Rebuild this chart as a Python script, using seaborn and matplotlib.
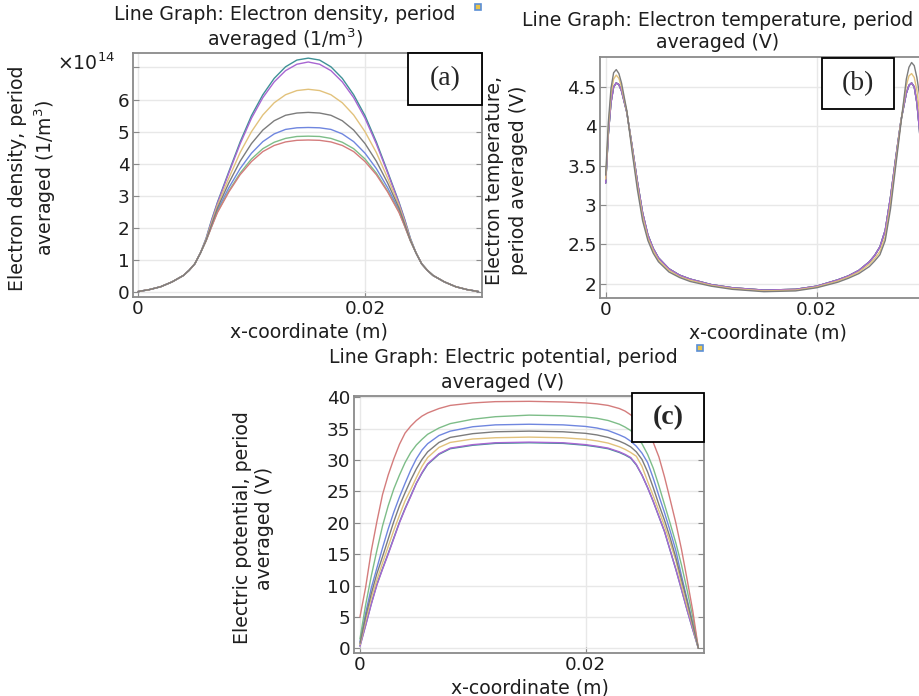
import numpy as np
import pandas as pd
import seaborn as sns
import matplotlib.pyplot as plt
from matplotlib.patches import Rectangle

# ---- data (x in mm) ----
x_density = [0, 1, 2, 3, 4, 4.5, 5, 5.5, 6, 6.5, 7, 8, 9, 10, 11, 12, 13, 14, 15,
             16, 17, 18, 19, 20, 21, 22, 23, 23.5, 24, 24.5, 25, 25.5, 26, 27, 28, 29, 30]
# electron density, units of 1e14 1/m^3
ne_blue = [0.02, 0.08, 0.17, 0.32, 0.52, 0.68, 0.88, 1.22, 1.61, 2.08, 2.55, 3.25, 3.85, 4.33, 4.69, 4.93, 5.07, 5.12, 5.13,
           5.12, 5.07, 4.93, 4.69, 4.33, 3.85, 3.25, 2.55, 2.08, 1.61, 1.22, 0.88, 0.68, 0.52, 0.32, 0.17, 0.08, 0.02]
ne_green = [0.02, 0.08, 0.17, 0.32, 0.52, 0.68, 0.88, 1.22, 1.6, 2.06, 2.5, 3.15, 3.71, 4.15, 4.47, 4.67, 4.79, 4.85, 4.86,
            4.85, 4.79, 4.67, 4.47, 4.15, 3.71, 3.15, 2.5, 2.06, 1.6, 1.22, 0.88, 0.68, 0.52, 0.32, 0.17, 0.08, 0.02]
ne_red = [0.02, 0.08, 0.17, 0.32, 0.52, 0.68, 0.88, 1.22, 1.6, 2.05, 2.48, 3.12, 3.66, 4.07, 4.38, 4.57, 4.68, 4.73, 4.74,
          4.73, 4.68, 4.57, 4.38, 4.07, 3.66, 3.12, 2.48, 2.05, 1.6, 1.22, 0.88, 0.68, 0.52, 0.32, 0.17, 0.08, 0.02]
ne_cyan = [0.02, 0.08, 0.17, 0.32, 0.52, 0.68, 0.88, 1.22, 1.68, 2.27, 2.8, 3.75, 4.68, 5.5, 6.15, 6.66, 7.02, 7.23, 7.29,
           7.23, 7.02, 6.66, 6.15, 5.5, 4.68, 3.75, 2.8, 2.27, 1.68, 1.22, 0.88, 0.68, 0.52, 0.32, 0.17, 0.08, 0.02]
ne_magenta = [0.02, 0.08, 0.17, 0.32, 0.52, 0.68, 0.88, 1.22, 1.66, 2.24, 2.77, 3.71, 4.62, 5.42, 6.06, 6.55, 6.9, 7.1, 7.17,
              7.1, 6.9, 6.55, 6.06, 5.42, 4.62, 3.71, 2.77, 2.24, 1.66, 1.22, 0.88, 0.68, 0.52, 0.32, 0.17, 0.08, 0.02]
ne_yellow = [0.02, 0.08, 0.17, 0.32, 0.52, 0.68, 0.88, 1.22, 1.64, 2.18, 2.7, 3.55, 4.35, 5.0, 5.52, 5.9, 6.15, 6.28, 6.32,
             6.28, 6.15, 5.9, 5.52, 5.0, 4.35, 3.55, 2.7, 2.18, 1.64, 1.22, 0.88, 0.68, 0.52, 0.32, 0.17, 0.08, 0.02]
ne_black = [0.02, 0.08, 0.17, 0.32, 0.52, 0.68, 0.88, 1.22, 1.62, 2.12, 2.62, 3.4, 4.08, 4.63, 5.05, 5.34, 5.51, 5.58, 5.6,
            5.58, 5.51, 5.34, 5.05, 4.63, 4.08, 3.4, 2.62, 2.12, 1.62, 1.22, 0.88, 0.68, 0.52, 0.32, 0.17, 0.08, 0.02]

x_temp = [0, 0.25, 0.5, 0.75, 1, 1.25, 1.5, 2, 2.5, 3, 3.5, 4, 4.5, 5, 6, 7, 8, 10, 12, 15,
          18, 20, 22, 23, 24, 25, 25.5, 26, 26.5, 27, 27.5, 28, 28.5, 28.75, 29, 29.25, 29.5, 29.75, 30]
te_black = [3.38, 4.05, 4.48, 4.68, 4.72, 4.67, 4.55, 4.2, 3.68, 3.2, 2.8, 2.55, 2.39, 2.28, 2.15, 2.08, 2.03, 1.97, 1.93, 1.9,
            1.91, 1.95, 2.02, 2.07, 2.13, 2.22, 2.29, 2.37, 2.55, 2.95, 3.5, 4.05, 4.6, 4.75, 4.81, 4.77, 4.62, 4.4, 3.5]
te_yellow = [3.33, 3.97, 4.4, 4.6, 4.65, 4.61, 4.5, 4.19, 3.72, 3.25, 2.85, 2.58, 2.42, 2.3, 2.17, 2.09, 2.045, 1.98, 1.94, 1.91,
             1.92, 1.96, 2.035, 2.085, 2.15, 2.25, 2.32, 2.41, 2.6, 3.02, 3.55, 4.07, 4.52, 4.64, 4.67, 4.62, 4.46, 4.17, 3.4]
te_other = [3.28, 3.9, 4.3, 4.5, 4.55, 4.53, 4.45, 4.18, 3.75, 3.3, 2.9, 2.62, 2.45, 2.33, 2.19, 2.11, 2.06, 1.99, 1.95, 1.92,
            1.93, 1.97, 2.05, 2.1, 2.17, 2.28, 2.36, 2.47, 2.68, 3.1, 3.6, 4.08, 4.42, 4.52, 4.55, 4.5, 4.3, 3.95, 3.3]

x_pot = [0, 0.5, 1, 1.5, 2, 2.5, 3, 3.5, 4, 4.5, 5, 5.5, 6, 7, 8, 10, 12, 15, 18, 20,
         21, 22, 23, 23.5, 24, 24.5, 25, 25.5, 26, 26.5, 27, 27.5, 28, 28.5, 29, 29.5, 30]
phi_blue = [1.0, 5.6, 9.6, 12.8, 16.0, 19.0, 21.7, 24.1, 26.3, 28.4, 30.2, 31.6, 32.6, 33.9, 34.6, 35.3, 35.6, 35.7, 35.6, 35.35,
            35.1, 34.7, 34.0, 33.6, 33.0, 32.2, 31.1, 29.6, 27.1, 24.3, 21.6, 18.7, 15.6, 11.6, 7.8, 4.0, 0.0]
phi_green = [1.5, 6.9, 11.5, 15.6, 19.5, 22.7, 25.4, 27.6, 29.6, 31.2, 32.4, 33.3, 34.1, 35.1, 35.8, 36.5, 36.9, 37.15, 37.05, 36.85,
             36.65, 36.3, 35.7, 35.25, 34.7, 33.8, 32.6, 30.9, 28.7, 25.9, 22.9, 19.9, 16.8, 13.3, 9.3, 5.0, 0.0]
phi_red = [5.0, 9.7, 15.5, 20.2, 24.5, 27.6, 30.2, 32.5, 34.3, 35.4, 36.3, 37.0, 37.5, 38.2, 38.7, 39.1, 39.3, 39.35, 39.25, 39.1,
           38.95, 38.7, 38.2, 37.8, 37.2, 36.5, 35.5, 34.3, 32.8, 30.5, 27.3, 23.7, 20.0, 15.8, 11.0, 6.0, 0.0]
phi_cyan = [0.4, 3.7, 7.1, 10.2, 12.7, 15.1, 17.6, 20.1, 22.3, 24.3, 26.3, 27.9, 29.3, 30.9, 31.8, 32.35, 32.65, 32.75, 32.65, 32.35,
            32.1, 31.8, 31.2, 30.8, 30.3, 29.2, 27.6, 25.6, 23.4, 21.0, 18.6, 15.6, 12.6, 9.4, 6.1, 3.0, 0.0]
phi_magenta = [0.3, 3.6, 7.0, 10.1, 12.6, 15.0, 17.5, 20.0, 22.2, 24.2, 26.3, 28.0, 29.4, 31.0, 31.9, 32.45, 32.75, 32.85, 32.75, 32.45,
               32.2, 31.9, 31.3, 30.9, 30.4, 29.3, 27.6, 25.6, 23.4, 21.0, 18.6, 15.6, 12.6, 9.4, 6.1, 3.0, 0.0]
phi_yellow = [0.6, 4.4, 8.0, 10.9, 13.6, 16.2, 18.8, 21.2, 23.5, 25.3, 27.2, 29.0, 30.4, 32.0, 32.8, 33.35, 33.55, 33.65, 33.55, 33.3,
              33.05, 32.7, 32.1, 31.7, 31.2, 30.6, 29.0, 26.6, 24.3, 21.9, 19.5, 16.8, 14.0, 10.2, 6.8, 3.5, 0.0]
phi_black = [0.8, 5.0, 8.7, 11.9, 14.6, 17.4, 20.2, 22.7, 24.8, 26.8, 28.6, 30.1, 31.3, 32.8, 33.6, 34.2, 34.5, 34.6, 34.5, 34.25,
             34.0, 33.6, 33.0, 32.6, 32.1, 31.3, 30.1, 28.1, 25.6, 22.9, 20.4, 17.6, 14.5, 11.0, 7.5, 3.8, 0.0]

# COMSOL plotting order
series = ["blue", "green", "red", "cyan", "magenta", "yellow", "black"]
palette = {"blue": "#6f86df", "green": "#7dbd88", "red": "#d47c7c", "cyan": "#3f9196",
           "magenta": "#a866d2", "yellow": "#e2c27c", "black": "#7c7c7c"}

density = {"blue": ne_blue, "green": ne_green, "red": ne_red, "cyan": ne_cyan,
           "magenta": ne_magenta, "yellow": ne_yellow, "black": ne_black}
temperature = {"blue": te_other, "green": te_other, "red": te_other, "cyan": te_other,
               "magenta": te_other, "yellow": te_yellow, "black": te_black}
potential = {"blue": phi_blue, "green": phi_green, "red": phi_red, "cyan": phi_cyan,
             "magenta": phi_magenta, "yellow": phi_yellow, "black": phi_black}


def long_frame(x_mm, curves):
    frames = []
    for name in series:
        frames.append(pd.DataFrame({"x": np.array(x_mm) / 1000.0,
                                    "y": curves[name], "series": name}))
    return pd.concat(frames, ignore_index=True)


sns.set_style("white")
plt.rcParams["font.family"] = ["DejaVu Sans"]

W, H = 919, 696
fig = plt.figure(figsize=(W / 100, H / 100), dpi=100)
fig.patch.set_facecolor("white")
FS = 13.6     # titles and axis labels
TFS = 13.2    # tick labels
TXT = "#1e1e1e"


def px_box(left, top, right, bottom):
    return [left / W, 1 - bottom / H, (right - left) / W, (bottom - top) / H]


def ftext(px, py, s, **kw):
    kw.setdefault("fontsize", FS)
    kw.setdefault("color", TXT)
    fig.text(px / W, 1 - py / H, s, ha="center", va="center", **kw)


def draw_panel(rect, df, xlim, ylim, yticks, ylabels):
    ax = fig.add_axes(px_box(*rect))
    sns.lineplot(data=df, x="x", y="y", hue="series", hue_order=series, palette=palette,
                 estimator=None, sort=False, legend=False, linewidth=1.0, ax=ax)
    ax.set_xlim(*xlim)
    ax.set_ylim(*ylim)
    ax.set_xticks([0, 0.02])
    ax.set_xticklabels(["0", "0.02"])
    ax.set_yticks(yticks)
    ax.set_yticklabels(ylabels)
    ax.set_xlabel("")
    ax.set_ylabel("")
    ax.grid(True, color="#e8e8e8", linewidth=1.0)
    ax.set_axisbelow(True)
    for sp in ax.spines.values():
        sp.set_color("#8a8a8a")
        sp.set_linewidth(1.3)
    ax.tick_params(axis="both", direction="in", length=4, width=0.8, color="#8a8a8a",
                   labelsize=TFS, labelcolor=TXT, left=True, right=True, bottom=True)
    ax.tick_params(axis="y", pad=2.5)
    ax.tick_params(axis="x", pad=2)
    return ax


def label_box(left, top, right, bottom, s, weight="normal"):
    fig.add_artist(Rectangle((left / W, 1 - bottom / H), (right - left) / W, (bottom - top) / H,
                             transform=fig.transFigure, facecolor="white", edgecolor="black",
                             linewidth=1.3, zorder=10))
    fig.text((left + right) / 2 / W, 1 - (top + bottom) / 2 / H, s, ha="center", va="center",
             family="Liberation Serif", fontsize=20, weight=weight, zorder=11)


def icon(px, py):
    fig.add_artist(Rectangle(((px - 3) / W, 1 - (py + 3) / H), 6 / W, 6 / H, transform=fig.transFigure,
                             facecolor="#e8c34a", edgecolor="#5b8fd6", linewidth=1.2, zorder=10))


# (a) electron density
ax_a = draw_panel((133, 53, 482, 297), long_frame(x_density, density),
                  (-0.00044, 0.03031), (-0.15, 7.45),
                  [0, 1, 2, 3, 4, 5, 6, 7], ["0", "1", "2", "3", "4", "5", "6", ""])
ftext(285, 15, "Line Graph: Electron density, period")
ftext(285, 39, "averaged (1/m$^3$)")
ftext(86, 63, "×10$^{14}$")
ftext(309, 332, "x-coordinate (m)")
ftext(18, 178, "Electron density, period", rotation=90)
ftext(45, 178, "averaged (1/m$^3$)", rotation=90)
label_box(408, 53, 482, 105, "(a)")

# (b) electron temperature
ax_b = draw_panel((600, 57, 925, 298), long_frame(x_temp, temperature),
                  (-0.00054, 0.03027), (1.82, 4.88),
                  [2, 2.5, 3, 3.5, 4, 4.5], ["2", "2.5", "3", "3.5", "4", "4.5"])
ftext(718, 20, "Line Graph: Electron temperature, period")
ftext(718, 43, "averaged (V)")
ftext(768, 333, "x-coordinate (m)")
ftext(495, 180, "Electron temperature,", rotation=90)
ftext(518, 180, "period averaged (V)", rotation=90)
label_box(822, 58, 894, 109, "(b)")

# (c) electric potential
ax_c = draw_panel((354, 396, 704, 653), long_frame(x_pot, potential),
                  (-0.00053, 0.0305), (-0.75, 40.2),
                  [0, 5, 10, 15, 20, 25, 30, 35, 40],
                  ["0", "5", "10", "15", "20", "25", "30", "35", "40"])
ftext(503, 357, "Line Graph: Electric potential, period")
ftext(503, 382, "averaged (V)")
ftext(530, 688, "x-coordinate (m)")
ftext(242, 528, "Electric potential, period", rotation=90)
ftext(265, 528, "averaged (V)", rotation=90)
label_box(632, 393, 704, 442, "(c)", weight="bold")

icon(478, 7)
icon(700, 348)

fig.savefig("out.png", dpi=100, facecolor="white")
